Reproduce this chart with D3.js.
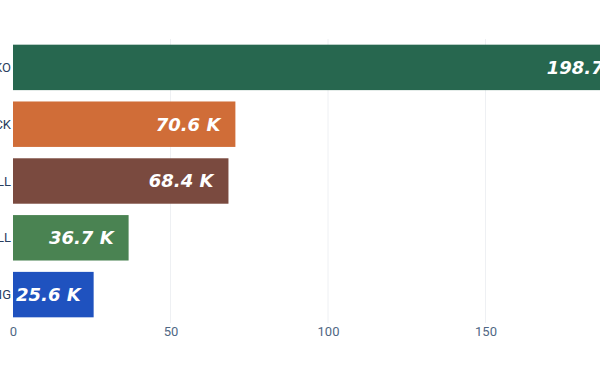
<!DOCTYPE html>
<html>
<head>
<meta charset="utf-8">
<script src="https://cdn.jsdelivr.net/npm/d3@7"></script>
<style>
  body { margin: 0; background: #fff; }
  svg { display: block; }
</style>
</head>
<body>
<div id="chart"></div>
<script>
// data
var categories = ["KO", "CK", "LL", "LL ", "NG"];
var values = [198.7, 70.6, 68.4, 36.7, 25.6];
var colors = ["#27674f", "#d06d38", "#7a4a3f", "#4a8352", "#1f52bf"];
var xTicks = [0, 50, 100, 150];

var width = 600, height = 372;

var svg = d3.select("#chart").append("svg")
    .attr("width", width)
    .attr("height", height);

// x scale runs past the right edge, as in the cropped picture
var x = d3.scaleLinear()
    .domain([0, 200])
    .range([13, 13 + 200 * 3.15]);

var y = d3.scaleBand()
    .domain(categories)
    .range([39, 323])
    .paddingInner(0.2)
    .paddingOuter(0.1);

// gridlines
svg.append("g")
    .selectAll("line")
    .data(xTicks.slice(1))
    .enter().append("line")
    .attr("x1", function(d) { return x(d); })
    .attr("x2", function(d) { return x(d); })
    .attr("y1", 39)
    .attr("y2", 323)
    .attr("stroke", "#eef0f3")
    .attr("stroke-width", 1);

// bars
svg.append("g")
    .selectAll("rect")
    .data(values)
    .enter().append("rect")
    .attr("x", x(0))
    .attr("y", function(d, i) { return y(categories[i]); })
    .attr("width", function(d) { return x(d) - x(0); })
    .attr("height", y.bandwidth())
    .attr("fill", function(d, i) { return colors[i]; });

// value labels inside bars
var labels = svg.append("g")
    .selectAll("text")
    .data(values)
    .enter().append("text")
    .attr("y", function(d, i) { return y(categories[i]) + y.bandwidth() / 2; })
    .attr("dy", "0.36em")
    .attr("text-anchor", "end")
    .style("font-family", "DejaVu Sans, sans-serif")
    .style("font-weight", "bold")
    .style("font-style", "italic")
    .style("font-size", "18px")
    .attr("fill", "#fff")
    .text(function(d) { return d3.format(".1f")(d) + " K"; });

// keep short bars' labels from running past the left of the bar
labels.attr("x", function(d) {
    var w = this.getComputedTextLength();
    return Math.max(x(d) - 15, x(0) + 3 + w);
});

// category labels (cut off at the left edge)
svg.append("g")
    .selectAll("text")
    .data(categories)
    .enter().append("text")
    .attr("x", 11)
    .attr("y", function(d) { return y(d) + y.bandwidth() / 2; })
    .attr("dy", "0.36em")
    .attr("text-anchor", "end")
    .style("font-family", "Roboto, sans-serif")
    .style("font-size", "13px")
    .attr("fill", "#2a3f5f")
    .text(function(d) { return d.trim(); });

// x axis
var xAxis = svg.append("g")
    .attr("transform", "translate(0,323)")
    .call(d3.axisBottom(x).tickValues(xTicks).tickSize(0).tickPadding(4));
xAxis.select(".domain").remove();
xAxis.selectAll("text")
    .style("font-family", "Roboto, sans-serif")
    .style("font-size", "13px")
    .attr("fill", "#506784");
</script>
</body>
</html>
